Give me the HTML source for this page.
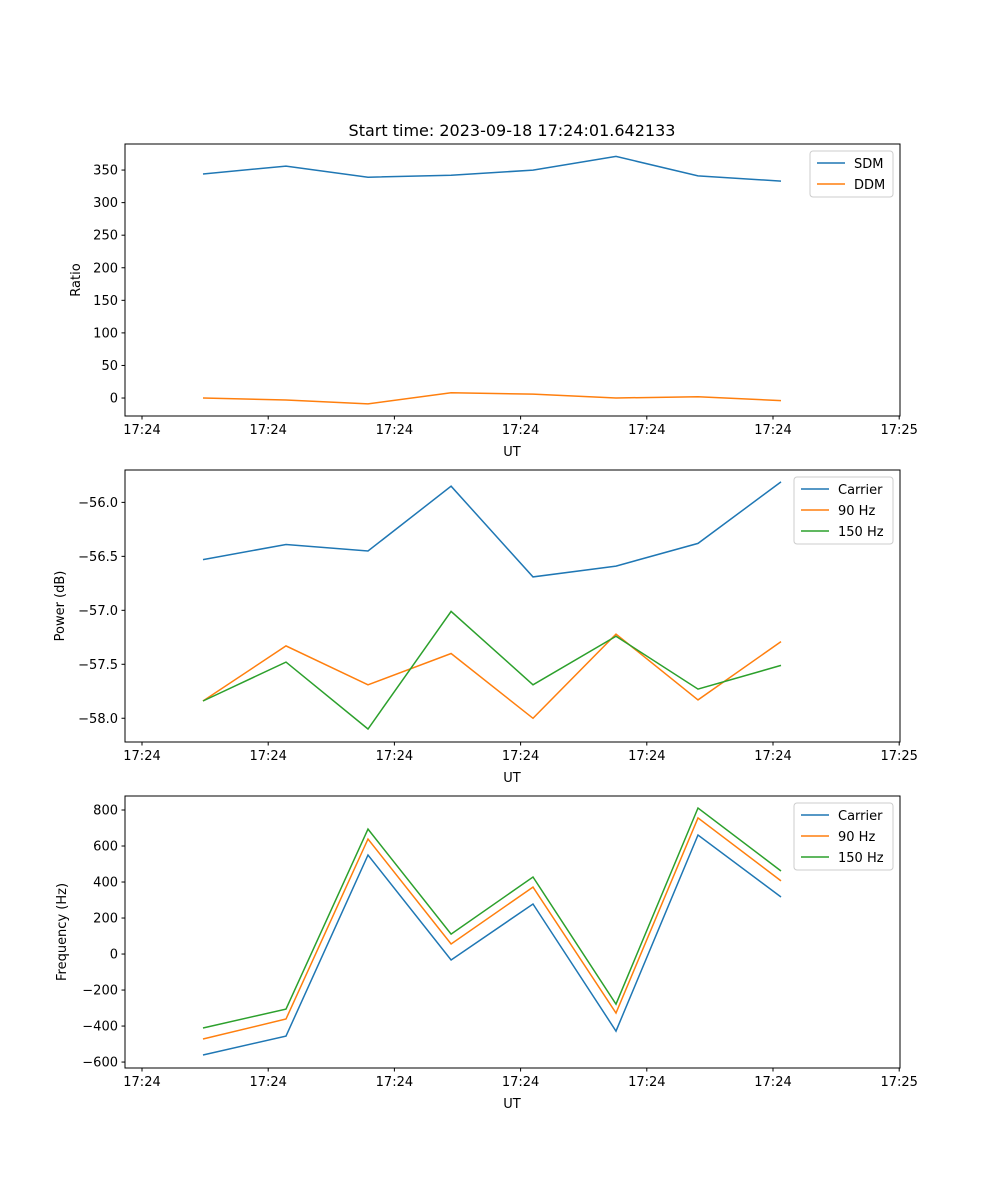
<!DOCTYPE html>
<html><head><meta charset="utf-8"><style>
body{margin:0;background:#fff;}
svg{display:block;font-family:"DejaVu Sans","Liberation Sans",sans-serif;}
</style></head><body>
<svg id="fig" width="1000" height="1200" viewBox="0 0 1000 1200">
<rect width="1000" height="1200" fill="#fff"/>
<text x="512" y="136" font-size="16" text-anchor="middle">Start time: 2023-09-18 17:24:01.642133</text>
</svg>
<script>
const times = [4.83, 11.41, 17.91, 24.49, 30.98, 37.56, 44.06, 50.63];
const xTicks = [0, 10, 20, 30, 40, 50, 60];
const xTickLabels = ["17:24","17:24","17:24","17:24","17:24","17:24","17:25"];
const sdm = [344, 356, 339, 342, 350, 371, 341, 333];
const ddm = [0, -3, -9, 8, 6, 0, 2, -4];
const powCarrier = [-56.53, -56.39, -56.45, -55.85, -56.69, -56.59, -56.38, -55.81];
const pow90 = [-57.84, -57.33, -57.69, -57.40, -58.00, -57.22, -57.83, -57.29];
const pow150 = [-57.84, -57.48, -58.10, -57.01, -57.69, -57.24, -57.73, -57.51];
const freqCarrier = [-561, -456, 550, -33, 278, -428, 661, 317];
const freq90 = [-472, -361, 639, 56, 372, -328, 756, 406];
const freq150 = [-411, -306, 694, 111, 428, -278, 811, 461];
const ratioTicks = [0, 50, 100, 150, 200, 250, 300, 350];
const powTicks = [-58.0, -57.5, -57.0, -56.5, -56.0];
const freqTicks = [-600, -400, -200, 0, 200, 400, 600, 800];

const svg = document.getElementById('fig');
const NS = 'http://www.w3.org/2000/svg';
function mk(tag, attrs, parent){const e=document.createElementNS(NS,tag);for(const k in attrs)e.setAttribute(k,attrs[k]);(parent||svg).appendChild(e);return e;}
const C = {blue:'#1f77b4', orange:'#ff7f0e', green:'#2ca02c'};
const X0=125, X1=900;
const xScale = t => 142 + t*12.62;

function panel(name, top, yMin, yMax, yTicks, fmt, ylabel, series, legendW){
  const bot = top+272;
  const g = mk('g',{});
  
  
  const y = v => bot - (v-yMin)/(yMax-yMin)*272;
  series.forEach(s=>{
    const p = mk('polyline',{points:s.vals.map((v,i)=>xScale(times[i]).toFixed(1)+','+y(v).toFixed(1)).join(' '),fill:'none',stroke:s.color,'stroke-width':1.5},g);
    
    
  });
  mk('rect',{x:X0,y:top,width:X1-X0,height:272,fill:'none',stroke:'#000','stroke-width':1},g);
  xTicks.forEach((t,i)=>{
    const xx=xScale(t);
    mk('line',{x1:xx,x2:xx,y1:bot,y2:bot+3.5,stroke:'#000'},g);
    const tx=mk('text',{x:xx,y:bot+18,'font-size':13,'text-anchor':'middle'},g);
    tx.textContent=xTickLabels[i];
    
    
  });
  yTicks.forEach(v=>{
    const yy=y(v);
    mk('line',{x1:X0-3.5,x2:X0,y1:yy,y2:yy,stroke:'#000'},g);
    const tx=mk('text',{x:X0-7,y:yy+4.5,'font-size':13,'text-anchor':'end'},g);
    tx.textContent=fmt(v);
    
    
  });
  const xl=mk('text',{x:512,y:bot+40,'font-size':13,'text-anchor':'middle'},g);
  xl.textContent='UT';
  
  
  const yc=top+136;
  const yl=mk('text',{x:0,y:0,'font-size':13,'text-anchor':'middle',transform:`translate(${ylabel.x},${yc}) rotate(-90)`},g);
  yl.textContent=ylabel.t;
  
  
  const lx=X1-7-legendW, ly=top+7, lh=4+series.length*21;
  const lg=mk('g',{},g);
  
  
  mk('rect',{x:lx,y:ly,width:legendW,height:lh,rx:3,fill:'#fff','fill-opacity':0.8,stroke:'#ccc'},lg);
  series.forEach((s,i)=>{
    const yy=ly+12+i*21;
    mk('line',{x1:lx+7,x2:lx+35,y1:yy,y2:yy,stroke:s.color,'stroke-width':1.5},lg);
    const t=mk('text',{x:lx+44,y:yy+5,'font-size':13},lg);
    t.textContent=s.label;
    
    
  });
}
panel('ratio',144,-27.6,390,ratioTicks,v=>String(v),{x:80,t:'Ratio'},
  [{key:'sdm',label:'SDM',vals:sdm,color:C.blue},{key:'ddm',label:'DDM',vals:ddm,color:C.orange}],83);
panel('power',470,-58.22,-55.70,powTicks,v=>'\u2212'.repeat(v<0?1:0)+Math.abs(v).toFixed(1),{x:64,t:'Power (dB)'},
  [{key:'carrier',label:'Carrier',vals:powCarrier,color:C.blue},{key:'90hz',label:'90 Hz',vals:pow90,color:C.orange},{key:'150hz',label:'150 Hz',vals:pow150,color:C.green}],99);
panel('frequency',796,-633,877.8,freqTicks,v=>(v<0?'\u2212':'')+Math.abs(v),{x:66,t:'Frequency (Hz)'},
  [{key:'carrier',label:'Carrier',vals:freqCarrier,color:C.blue},{key:'90hz',label:'90 Hz',vals:freq90,color:C.orange},{key:'150hz',label:'150 Hz',vals:freq150,color:C.green}],99);
</script>
</body></html>
